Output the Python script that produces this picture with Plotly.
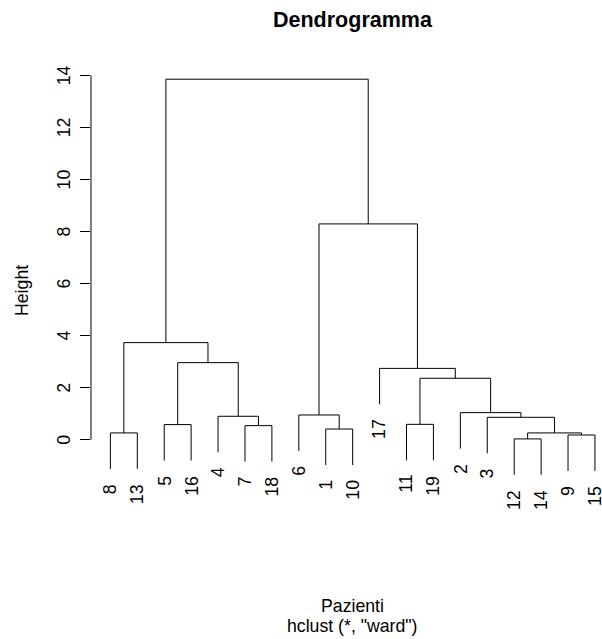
import plotly.graph_objects as go

# Leaf labels in dendrogram order (left to right)
leaf_order = [8, 13, 5, 16, 4, 7, 18, 6, 1, 10, 17, 11, 19, 2, 3, 12, 14, 9, 15]

# Agglomeration steps: negative = single patient, positive = earlier step (1-based)
merge_left = [-12, -9, 1, -8, -1, -7, -5, -11, -3, -4, -6, -2, 8, -17, 7, 4, 11, 16]
merge_right = [-14, -15, 2, -13, -10, -18, -16, -19, 3, 6, 5, 9, 12, 13, 10, 15, 14, 17]
merge_height = [0.03, 0.18, 0.26, 0.26, 0.41, 0.54, 0.58, 0.59, 0.86, 0.90,
                0.95, 1.04, 2.36, 2.74, 2.96, 3.73, 8.29, 13.85]

y_ticks = [0, 2, 4, 6, 8, 10, 12, 14]
y_tick_text = ["0", "2", "4", "6", "8", "10", "12", "14"]

FONT = "Liberation Sans, Arial, Helvetica, sans-serif"
HANG = 0.1 * (max(merge_height) - min(merge_height))

leaf_x = {lab: i + 1 for i, lab in enumerate(leaf_order)}
node_x = {}
seg_x, seg_y = [], []
leaf_ends = []


def child_pos(ref, parent_h):
    """x position of a child and the height its vertical segment starts from."""
    if ref < 0:
        lab = -ref
        y0 = parent_h - HANG
        leaf_ends.append((lab, leaf_x[lab], y0))
        return leaf_x[lab], y0
    return node_x[ref], merge_height[ref - 1]


for k, (a, b, h) in enumerate(zip(merge_left, merge_right, merge_height), start=1):
    xa, ya = child_pos(a, h)
    xb, yb = child_pos(b, h)
    seg_x += [xa, xa, xb, xb, None]
    seg_y += [ya, h, h, yb, None]
    node_x[k] = (xa + xb) / 2

fig = go.Figure()
fig.add_trace(go.Scatter(
    x=seg_x, y=seg_y, mode="lines",
    line=dict(color="black", width=1),
    hoverinfo="skip", showlegend=False, cliponaxis=False,
))

annotations = []
# leaf labels hanging below each branch
for lab, x, y0 in leaf_ends:
    annotations.append(dict(
        x=x, y=y0, xref="x", yref="y", text=str(lab), showarrow=False,
        textangle=-90, xanchor="center", yanchor="top", yshift=-13,
        font=dict(family=FONT, size=17.7, color="black"),
    ))
# y tick labels
for v, t in zip(y_ticks, y_tick_text):
    annotations.append(dict(
        x=0, y=v, xref="paper", yref="y", text=t, showarrow=False,
        textangle=-90, xanchor="center", yanchor="middle", xshift=-27,
        font=dict(family=FONT, size=17.7, color="black"),
    ))

W, H = 602, 639
L, R, T, B = 91, 0, 65, 158
plot_h = H - T - B


def py(pix):
    return (H - B - pix) / plot_h


annotations += [
    dict(x=0, y=py(291), xref="paper", yref="paper", text="Height", showarrow=False,
         textangle=-90, xanchor="center", yanchor="middle", xshift=-69,
         font=dict(family=FONT, size=17.7, color="black")),
    dict(x=0, y=py(20), xref="paper", yref="paper", text="<b>Dendrogramma</b>",
         showarrow=False, xanchor="center", yanchor="middle", xshift=352.5 - L,
         font=dict(family=FONT, size=21.5, color="black")),
    dict(x=0, y=py(605.5), xref="paper", yref="paper", text="Pazienti",
         showarrow=False, xanchor="center", yanchor="middle", xshift=352.5 - L,
         font=dict(family=FONT, size=17.7, color="black")),
    dict(x=0, y=py(625.5), xref="paper", yref="paper", text='hclust (*, "ward")',
         showarrow=False, xanchor="center", yanchor="middle", xshift=352.5 - L,
         font=dict(family=FONT, size=17.7, color="black")),
]

# axis line spanning the labelled range only
shapes = [dict(type="line", xref="paper", yref="y", x0=0, x1=0,
               y0=y_ticks[0], y1=y_ticks[-1], line=dict(color="black", width=1))]

px_per_x = 26.92
px_per_y = 26.03
x_lo = 0.28
x_hi = x_lo + (W - L - R) / px_per_x
y_zero_pix = 439.7
y_hi = (y_zero_pix - T) / px_per_y
y_lo = -((H - B) - y_zero_pix) / px_per_y

fig.update_layout(
    width=W, height=H,
    margin=dict(l=L, r=R, t=T, b=B, pad=0),
    paper_bgcolor="white", plot_bgcolor="white",
    xaxis=dict(range=[x_lo, x_hi], visible=False, fixedrange=True),
    yaxis=dict(range=[y_lo, y_hi], tickvals=y_ticks, showticklabels=False,
               ticks="outside", ticklen=10, tickwidth=1, tickcolor="black",
               showgrid=False, zeroline=False, showline=False, fixedrange=True),
    annotations=annotations,
    shapes=shapes,
    showlegend=False,
)

fig.write_html("out.html")
